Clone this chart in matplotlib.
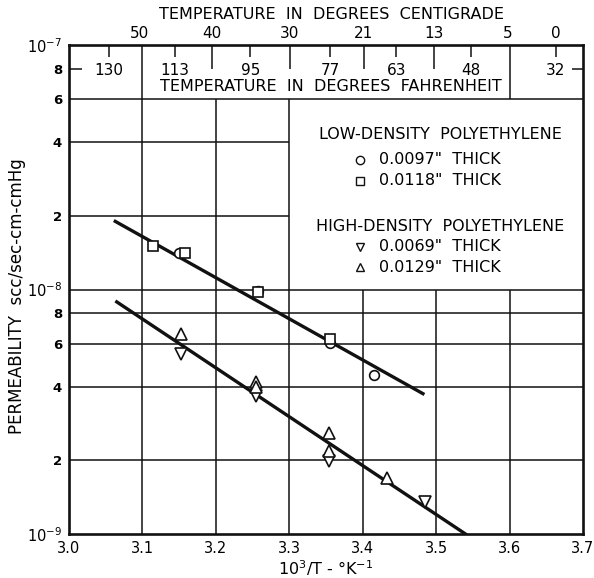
import matplotlib.pyplot as plt
import matplotlib.transforms as mtrans
import numpy as np

# low-density polyethylene (upper line)
ld_circ_x = [3.150, 3.257, 3.355, 3.415]
ld_circ_y = [1.41e-8, 9.9e-9, 6.03e-9, 4.48e-9]
ld_sq_x = [3.114, 3.158, 3.257, 3.355]
ld_sq_y = [1.51e-8, 1.41e-8, 9.8e-9, 6.3e-9]
ld_fit_x = [3.063, 3.482]
ld_fit_y = [1.90e-8, 3.75e-9]

# high-density polyethylene (lower line)
hd_dn_x = [3.153, 3.255, 3.354, 3.485]
hd_dn_y = [5.45e-9, 3.68e-9, 1.99e-9, 1.35e-9]
hd_up_x = [3.153, 3.255, 3.255, 3.354, 3.354, 3.433]
hd_up_y = [6.6e-9, 4.17e-9, 3.99e-9, 2.6e-9, 2.18e-9, 1.69e-9]
hd_fit_x = [3.065, 3.54]
hd_fit_y = [8.9e-9, 1.0e-9]

xticks = [3.0, 3.1, 3.2, 3.3, 3.4, 3.5, 3.6, 3.7]
yticks = [1e-9, 2e-9, 4e-9, 6e-9, 8e-9, 1e-8, 2e-8, 4e-8, 6e-8, 8e-8, 1e-7]
ylabels = ['10$^{-9}$', '2', '4', '6', '8', '10$^{-8}$', '2', '4', '6', '8', '10$^{-7}$']

celsius = [50, 40, 30, 21, 13, 5, 0]
fahrenheit = [130, 113, 95, 77, 63, 48, 32]

fig = plt.figure(figsize=(5.94, 5.78), dpi=100)
ax = fig.add_axes([0.1162, 0.0761, 0.8653, 0.846])
ax.set_yscale('log')
ax.set_xlim(3.0, 3.7)
ax.set_ylim(1e-9, 1e-7)

lc = '#111111'
# grid, with the legend cell and the temperature box left open
ax.hlines([2e-9, 4e-9, 6e-9, 8e-9, 1e-8, 6e-8], 3.0, 3.7, color=lc, lw=1.1)
ax.hlines([2e-8, 4e-8], 3.0, 3.3, color=lc, lw=1.1)
ax.vlines([3.1, 3.2, 3.3], 1e-9, 6e-8, color=lc, lw=1.1)
ax.vlines([3.4, 3.5, 3.6], 1e-9, 1e-8, color=lc, lw=1.1)
ax.vlines([3.1, 3.6], 6e-8, 1e-7, color=lc, lw=1.1)

# temperature scales in the top box
cx = [1000.0 / (c + 273) for c in celsius]
fx = [1000.0 / ((f - 32) / 1.8 + 273) for f in fahrenheit]
ax.vlines(cx[1:5], 0.80e-7, 1e-7, color=lc, lw=1.1)
ax.vlines(fx, 0.89e-7, 1e-7, color=lc, lw=1.1)
ax.hlines([8e-8, 8e-8], [3.0, 3.685], [3.018, 3.7], color=lc, lw=1.1)

tr = mtrans.blended_transform_factory(ax.transData, ax.transAxes)
for x, c in zip(cx, celsius):
    ax.text(x, 1.024, str(c), transform=tr, ha='center', va='center', fontsize=11)
for x, f in zip(fx, fahrenheit):
    ax.text(x, 0.947, str(f), transform=tr, ha='center', va='center', fontsize=11)
ax.text(3.357, 1.063, 'TEMPERATURE  IN  DEGREES  CENTIGRADE', transform=tr,
        ha='center', va='center', fontsize=11.5)
ax.text(3.357, 0.915, 'TEMPERATURE  IN  DEGREES  FAHRENHEIT', transform=tr,
        ha='center', va='center', fontsize=11.5)

# data
mk = dict(ls='none', mfc='white', mec=lc, mew=1.2, zorder=5)
ax.plot(ld_fit_x, ld_fit_y, color=lc, lw=2.4)
ax.plot(hd_fit_x, hd_fit_y, color=lc, lw=2.4)
ax.plot(ld_circ_x, ld_circ_y, marker='o', ms=7, **mk)
ax.plot(ld_sq_x, ld_sq_y, marker='s', ms=6.5, **mk)
ax.plot(hd_dn_x, hd_dn_y, marker='v', ms=8, **mk)
ax.plot(hd_up_x, hd_up_y, marker='^', ms=8, **mk)

# legend drawn as text in the open cell
ax.text(0.722, 0.816, 'LOW-DENSITY  POLYETHYLENE', transform=ax.transAxes,
        ha='center', va='center', fontsize=11.5)
ax.text(0.722, 0.628, 'HIGH-DENSITY  POLYETHYLENE', transform=ax.transAxes,
        ha='center', va='center', fontsize=11.5)
rows = [('o', '0.0097"  THICK', 0.765), ('s', '0.0118"  THICK', 0.722),
        ('v', '0.0069"  THICK', 0.587), ('^', '0.0129"  THICK', 0.546)]
for m, lab, y in rows:
    ax.plot([0.566], [y], transform=ax.transAxes, marker=m, ls='none',
            mfc='white', mec=lc, mew=1.0, ms=6, clip_on=False)
    ax.text(0.603, y, lab, transform=ax.transAxes, ha='left', va='center',
            fontsize=11.5)

ax.set_xticks(xticks)
ax.set_xticklabels(['%.1f' % v for v in xticks], fontsize=10.5)
ax.set_yticks(yticks)
ax.set_yticklabels(ylabels, fontsize=10.5)
for t in ax.get_yticklabels():
    if '10' not in t.get_text():
        t.set_fontweight('bold')
        t.set_fontsize(9.5)
ax.yaxis.set_minor_locator(plt.NullLocator())
ax.tick_params(length=0, pad=5)
for s in ax.spines.values():
    s.set_linewidth(1.9)
    s.set_color(lc)

ax.set_xlabel('10$^3$/T - °K$^{-1}$', fontsize=11.5, labelpad=2)
fig.text(0.029, 0.488, 'PERMEABILITY  scc/sec-cm-cmHg', rotation=90,
         ha='center', va='center', fontsize=12)

fig.savefig('out.png', dpi=100)
